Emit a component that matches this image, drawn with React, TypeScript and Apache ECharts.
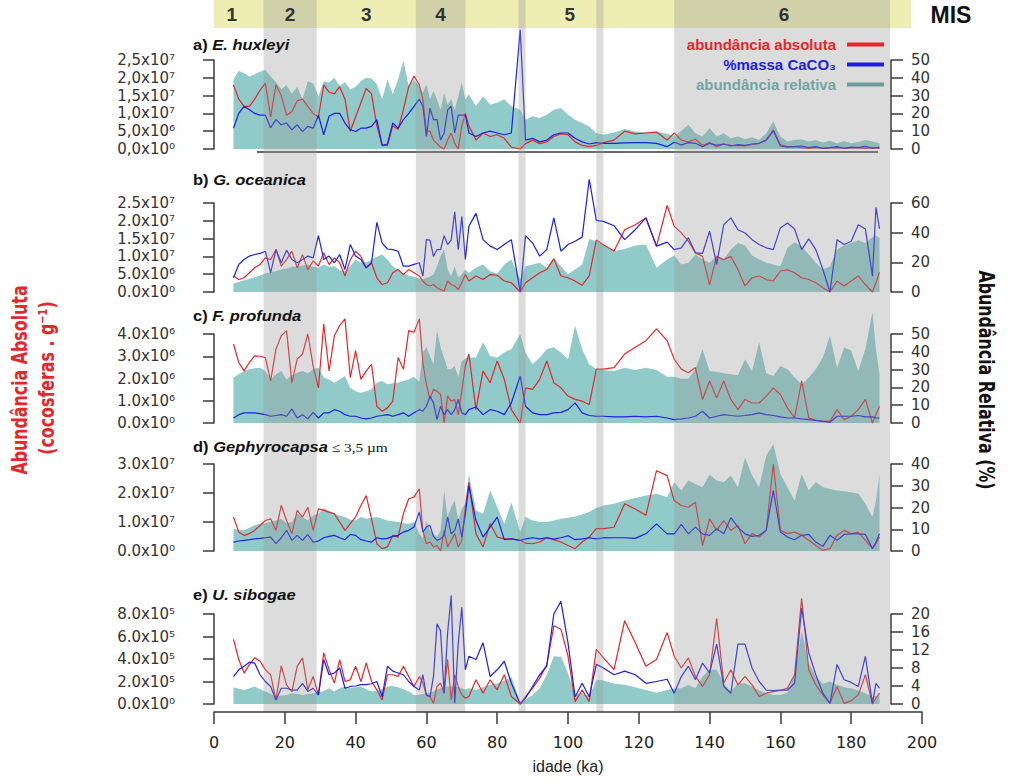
import React, { useEffect, useRef } from 'react';
import * as echarts from 'echarts';

// ---------- DATA ----------
// sample ages (ka)
const ages = [
  5.5, 7, 8.5, 10, 11.5, 13, 14.5, 16, 17.5, 19, 20.5, 22, 23.5, 25, 26.5, 28, 29.5, 31, 32.5, 34, 35.5, 37, 38.5, 40, 41.5, 43, 44.5, 46, 47.5, 49, 50.5, 52, 53.5, 55, 56.5,
  58, 59, 60, 61, 62, 63, 64, 65, 66, 67, 68, 69, 70, 71, 72,
  74, 76, 78, 80, 82, 84, 86.5, 88, 90, 92, 94, 96, 98, 100, 102, 104, 106, 108, 110, 113, 116, 119, 122, 125, 128,
  130, 132, 134, 136, 138, 140, 142, 144, 146, 148, 150, 152, 154, 156, 158, 160, 162, 164, 166, 168, 170, 172, 174, 176, 178, 180, 182, 184, 186, 187, 188,
];

// a) E. huxleyi
const aAbs = [
  18e6, 14e6, 12e6, 12e6, 14e6, 16.5e6, 18.5e6, 9e6, 18e6, 15e6, 9.5e6, 10.5e6, 13.5e6, 14e6, 12e6, 10e6, 9e6, 18e6, 16e6, 15.5e6, 17.5e6, 14e6, 5e6, 9e6, 13e6, 17e6, 15.5e6, 6.5e6, 1e6, 1e6, 6.5e6, 5.5e6, 11e6, 17.5e6, 20.5e6,
  18e6, 14e6, 5e6, 5e6, 2.5e6, 1.5e6, 0.5e6, 0, 2.5e6, 4.5e6, 1.5e6, 0, 6.5e6, 10e6, 6.5e6,
  2.5e6, 4.5e6, 3.5e6, 4e6, 3e6, 0.5e6, 0, 1.5e6, 2.5e6, 1.5e6, 2e6, 3.5e6, 4.25e6, 4e6, 2e6, 1e6, 0.65e6, 1e6, 1.8e6, 2.5e6, 5e6, 4.25e6, 4.5e6, 4.75e6, 2.5e6,
  4.5e6, 2.5e6, 2e6, 2.75e6, 1e6, 1.8e6, 0.65e6, 1.4e6, 1e6, 0.95e6, 0.85e6, 1.3e6, 1.6e6, 2.5e6, 5.4e6, 1.15e6, 0.65e6, 0.65e6, 0.4e6, 0.2e6, 0.45e6, 0.2e6, 0.3e6, 0.4e6, 0.2e6, 0.4e6, 0.3e6, 0.2e6, 0.4e6, 0.3e6, 0.2e6,
];
const aCaCO3 = [
  11.7, 20, 24, 22, 20, 19, 19, 12, 16.5, 13.6, 14.6, 10.8, 13.6, 9.8, 12.7, 11.7, 19, 8, 18.4, 20, 20, 14.6, 10.8, 9.8, 11.7, 11.7, 12.7, 16.5, 2, 2.8, 14.6, 11.7, 16.5, 20, 24,
  28, 24, 7, 23, 16.5, 16.5, 5, 9, 22, 24, 9, 19, 19, 19, 9,
  7, 9, 10, 9, 8, 9, 67, 5, 6, 4, 5, 8, 9, 9, 6, 4, 2.8, 3.6, 3.2, 3.2, 3.4, 3.6, 3.6, 3.2, 1.3,
  3.8, 2.3, 3.6, 3.2, 1.3, 3.2, 2, 2.8, 1.7, 2.5, 2, 2.8, 3.2, 5, 10.2, 1.7, 1.1, 1.3, 1.7, 0.8, 1.3, 0.4, 0.8, 1.3, 0.4, 1.1, 0.8, 1.5, 0.4, 0.7, 0.9,
];
const aRel = [
  39, 44, 42.6, 40.7, 42, 43.4, 44.5, 40.7, 37.7, 33.5, 35.8, 31, 35, 28, 38, 37, 29.7, 38, 37.3, 40, 35.4, 37.7, 33.5, 35, 38, 40, 39.6, 36.4, 28, 39, 30.7, 39, 49.6, 35.4, 39,
  35.4, 31.6, 36.4, 28, 32.6, 28, 22, 31.6, 25, 28, 22, 29.7, 37.3, 28, 30.7,
  24, 29.7, 25, 26, 28, 24, 22, 16.5, 18.4, 17.4, 19.3, 22, 23, 19.3, 16.5, 14.6, 12.7, 8.9, 8, 9.3, 11.2, 9.8, 9.3, 9.8, 8.5,
  7, 10.2, 13.6, 8.9, 7, 11.7, 7, 8.9, 6, 7, 5.5, 6.6, 5, 8.9, 15.5, 7, 4.2, 5, 5.5, 4.2, 5, 3.6, 4.7, 3.2, 4.5, 3.2, 4, 5, 4.2, 3.8, 3.2,
];

// b) G. oceanica
const bAbs = [
  4.5e6, 3.5e6, 4e6, 5.4e6, 6.8e6, 7.7e6, 9.6e6, 9.1e6, 11.9e6, 7.3e6, 9.1e6, 11.5e6, 6.8e6, 10.5e6, 6.3e6, 8.7e6, 7.3e6, 11e6, 7.7e6, 9.6e6, 8.2e6, 4.5e6, 9.1e6, 11.5e6, 10e6, 6.8e6, 8.2e6, 4e6, 2.1e6, 2.6e6, 5.4e6, 6.3e6, 4.9e6, 6.3e6, 5.4e6,
  4.5e6, 3.1e6, 2.1e6, 1.7e6, 2.1e6, 1.2e6, 0.7e6, 0.3e6, 3.1e6, 2.1e6, 1.7e6, 0.7e6, 2.6e6, 4.9e6, 3.1e6,
  4.5e6, 3.5e6, 4.9e6, 4.7e6, 3.1e6, 2.6e6, 0, 2.6e6, 4e6, 5.4e6, 6.3e6, 9.3e6, 4.5e6, 4e6, 3.1e6, 1.9e6, 4.5e6, 14.6e6, 13.3e6, 11.5e6, 17.5e6, 18.9e6, 20.8e6, 12.9e6, 24.3e6,
  18.5e6, 16.6e6, 14.3e6, 11e6, 10e6, 2.1e6, 10e6, 9.1e6, 10e6, 6.3e6, 1.7e6, 4e6, 4.5e6, 3.5e6, 3.1e6, 5.9e6, 6.2e6, 5.4e6, 4e6, 3.5e6, 2.6e6, 1.2e6, 0, 3.1e6, 1.7e6, 3.1e6, 4.5e6, 2.1e6, 0, 2.6e6, 5.6e6,
];
const bCaCO3 = [
  9.6, 18.6, 21.9, 24.2, 25.3, 26, 27.5, 13, 28.6, 19.7, 28.2, 21.9, 19.7, 21.9, 24.2, 23, 38, 21.9, 24.2, 19.7, 25.3, 15.2, 32, 24.2, 21.9, 16.3, 19.7, 47, 33, 29, 28.6, 27.5, 17.4, 17.4, 18.6,
  19.7, 10.7, 35.3, 35, 24, 28.6, 28.6, 38, 32, 35, 54, 28.6, 51, 21.9, 44.3,
  53, 35.3, 30.9, 28.6, 32, 35.3, 0, 38, 33, 24.2, 28.6, 50, 27.5, 32, 34.2, 37, 76, 48.3, 47.6, 44.7, 35.3, 42, 50, 30.9, 33.6,
  28.6, 29.8, 36.5, 26.4, 26, 41, 18.6, 45.4, 50, 42, 39.8, 35.3, 32, 29.8, 28.6, 43.2, 46.5, 42.5, 28.6, 35.8, 28.6, 15.2, 0, 35.3, 32, 34.2, 45.4, 42.5, 10.7, 57, 42.5,
];
const bRel = [
  5.8, 6.7, 8, 9, 10, 11.2, 12.5, 13.4, 14, 15.2, 15.9, 17, 17.4, 17.9, 18.6, 17, 16.3, 18.6, 17, 17.4, 14.8, 14, 17.4, 21.9, 19.7, 20, 21.9, 23.7, 25.3, 21.9, 17.4, 14.8, 12.5, 11.2, 10.3,
  9, 8.5, 9.6, 10.3, 11.9, 17.4, 24.2, 28.6, 15.2, 10.7, 17.4, 9.6, 11.9, 15.2, 13,
  16.3, 18.6, 14, 12.5, 18.6, 21.9, 8.5, 17.4, 18.6, 19.7, 16.3, 23, 17.4, 11.9, 15.2, 18.6, 35.8, 34.2, 32, 27.5, 29, 31.3, 32, 16.3, 21.9,
  24.6, 18.6, 19.7, 25.3, 21.9, 19.7, 24.2, 21.9, 28.6, 33.1, 31.3, 24.6, 21.9, 19.7, 18.6, 17.4, 29.8, 33.6, 30.9, 25.3, 19.7, 15.2, 17.4, 28.6, 31.3, 33.1, 34.9, 33.1, 37, 38, 36.5,
];

// c) F. profunda
const cAbs = [
  3.55e6, 2.72e6, 2.34e6, 2.72e6, 3.02e6, 3.0e6, 2.94e6, 1.89e6, 3.32e6, 3.92e6, 4.15e6, 1.81e6, 2.87e6, 3.1e6, 4.0e6, 2.57e6, 1.58e6, 4.45e6, 2.34e6, 3.92e6, 4.38e6, 4.68e6, 2.04e6, 3.25e6, 1.96e6, 2.34e6, 2.64e6, 0.75e6, 0.53e6, 0.68e6, 0.98e6, 2.94e6, 2.42e6, 4.15e6, 4.08e6,
  4.68e6, 2.72e6, 1.74e6, 1.06e6, 1.51e6, 1.43e6, 1.28e6, 0, 1.21e6, 0.98e6, 1.06e6, 0.38e6, 1.43e6, 2.57e6, 3.1e6,
  0.6e6, 2.34e6, 1.81e6, 2.79e6, 1.96e6, 0.6e6, 0, 1.58e6, 1.51e6, 1.96e6, 2.79e6, 1.81e6, 1.58e6, 1.21e6, 1.06e6, 0.98e6, 0.83e6, 2.42e6, 2.42e6, 2.49e6, 3.1e6, 3.4e6, 3.7e6, 4.23e6, 3.7e6,
  2.87e6, 2.42e6, 2.26e6, 2.49e6, 1.06e6, 1.89e6, 1.13e6, 1.89e6, 1.06e6, 0.6e6, 1.06e6, 0.9e6, 0.9e6, 1.21e6, 1.58e6, 1.28e6, 0.68e6, 0.23e6, 1.89e6, 0.23e6, 0.12e6, 0.08e6, 0.08e6, 0.6e6, 0.15e6, 0.3e6, 0.6e6, 1.06e6, 0, 0.38e6, 0.75e6,
];
const cCaCO3 = [
  2.8, 4.7, 5.7, 5.7, 5.7, 5.3, 4.7, 3.8, 4.2, 4.7, 3.8, 7.9, 2.8, 4.7, 2.3, 6, 2.8, 5.7, 5.7, 7.5, 6.6, 4.7, 3.8, 3.8, 2.8, 2.3, 2.8, 3.8, 4.2, 4.7, 3.8, 4.7, 5.7, 3.8, 5.7,
  7.5, 6.6, 9.4, 15.1, 11.3, 1.9, 9.4, 4.7, 7.5, 4.7, 7.5, 13.2, 5.7, 4.7, 7.5,
  9, 4.7, 7.5, 6.6, 4.7, 11.3, 26.4, 9.4, 5.7, 4.7, 4.7, 5.7, 6, 7.5, 11.3, 5.7, 4.2, 3.8, 3.8, 3.4, 3.4, 3.8, 3.4, 3.8, 2.8,
  1.9, 2.3, 2.8, 3.8, 6.6, 2.8, 3.8, 4.7, 4.2, 3.8, 4.2, 4.7, 5.7, 4.7, 4.2, 3.4, 2.8, 2.8, 2.3, 1.9, 1.5, 0.9, 0.4, 3.8, 3.8, 3.8, 4.2, 3.4, 3.4, 2.8, 2.8,
];
const cRel = [
  25.5, 27.4, 29.2, 30.2, 30.8, 31.1, 29.2, 24.5, 27.4, 29.2, 24.5, 26.8, 28.3, 29.2, 27.9, 30.2, 31.1, 25.5, 24.5, 22.6, 24.5, 26.4, 19.8, 17.9, 17, 17.9, 18.9, 22.6, 23.6, 21.7, 22.3, 22.6, 23.6, 24.5, 26,
  23, 39.6, 42.5, 37.7, 33, 51.9, 42.5, 36.8, 30.2, 30.2, 32, 25.5, 34.9, 36.2, 36.8,
  36.8, 45.3, 37.7, 36.8, 39.6, 41.5, 50, 39.6, 33, 36.8, 41.5, 42.5, 39.6, 35.8, 54.7, 41.5, 33, 30.2, 29.8, 29.2, 31.1, 29.8, 31.1, 29.8, 26,
  26, 24.9, 24.9, 30.2, 41.5, 29.2, 28.7, 27.9, 27.4, 26.8, 35.8, 29.2, 45.3, 27.9, 26.4, 32, 30.2, 25.5, 21.7, 25.5, 30.2, 36.8, 49, 31.1, 42.5, 40.6, 29.2, 41.5, 62.3, 41.5, 27.4,
];

// d) Gephyrocapsa <= 3,5 um
const dAbs = [
  11.7e6, 6.5e6, 5.4e6, 6e6, 7.1e6, 8.8e6, 10.5e6, 11.1e6, 7.1e6, 15.7e6, 10.5e6, 6e6, 14e6, 11.7e6, 15.1e6, 7.1e6, 14.5e6, 14e6, 13.4e6, 12.8e6, 10e6, 7.1e6, 9.4e6, 11.7e6, 15.7e6, 19.1e6, 11.1e6, 2.5e6, 0.8e6, 1.4e6, 5.4e6, 4.8e6, 12.8e6, 18e6, 18.6e6,
  21.4e6, 7.1e6, 2.5e6, 3.1e6, 1.4e6, 1.9e6, 0, 7.1e6, 1.4e6, 3.7e6, 6e6, 1.4e6, 3.7e6, 15.1e6, 23.7e6,
  6e6, 1.4e6, 9.4e6, 4.8e6, 4.2e6, 4.2e6, 3.7e6, 2.7e6, 2.5e6, 3.1e6, 4.6e6, 3.9e6, 3.1e6, 1.9e6, 0.8e6, 3.1e6, 4.8e6, 7.7e6, 7.7e6, 8.2e6, 16.3e6, 14.5e6, 12.3e6, 27.7e6, 26e6,
  17.4e6, 15.7e6, 15.1e6, 16.8e6, 1.9e6, 11.1e6, 7.1e6, 10.5e6, 7.1e6, 8.8e6, 2.5e6, 6e6, 4.8e6, 7.1e6, 30e6, 7.1e6, 6e6, 6.5e6, 5.4e6, 3.7e6, 1.9e6, 0.2e6, 0.8e6, 5.4e6, 7.1e6, 6e6, 6.5e6, 3.7e6, 0.8e6, 2.5e6, 4.8e6,
];
const dCaCO3 = [
  4.1, 4.6, 4.9, 5.2, 5.6, 5.8, 6.1, 6.4, 3.4, 6.1, 9.5, 4.9, 7.2, 4.9, 7.6, 4.1, 4.6, 6.1, 6.7, 7.2, 6.1, 5.2, 7.6, 7.2, 5.2, 4.6, 4.1, 6.1, 5.6, 5.8, 6.7, 7.2, 8.7, 9.5, 11,
  17.9, 8.7, 11, 11.8, 6.7, 4.9, 5.6, 7.2, 15.6, 7.9, 9.5, 14.8, 6.4, 17.1, 30,
  14, 6.4, 11, 15.6, 5.2, 5.6, 4.9, 5.6, 6.1, 5.6, 6.1, 5.5, 6.1, 7, 5.2, 5.6, 6.1, 5.6, 6, 6.1, 6.1, 5.8, 7.9, 12.5, 7.9,
  7.9, 12.2, 7.9, 11, 7.9, 7.2, 10.2, 7.9, 15.3, 11, 7.9, 6.7, 7.2, 9.5, 27.8, 8.7, 6.4, 5.2, 7.2, 7.6, 4.1, 2.1, 7.2, 4.9, 7.6, 7.9, 7.9, 7.6, 1.1, 4.1, 7.9,
];
const dRel = [
  10.2, 9.8, 9.5, 10.7, 11.8, 12.5, 12.8, 13.3, 14, 14.8, 12.8, 13.3, 17.1, 15.6, 14, 16.3, 17.1, 19.8, 18.3, 17.1, 16.3, 15.6, 14.4, 14, 15.6, 14.8, 15.3, 15.6, 14.8, 14, 13.7, 13.3, 12.8, 12.5, 13.3,
  7.9, 6.1, 14, 9.5, 7.9, 6.4, 9.5, 27.8, 15.6, 20.2, 23.2, 14, 19.4, 21.7, 35.4,
  18.6, 17.1, 27.8, 20.2, 12.5, 22.4, 8.7, 15.6, 14, 13.3, 13.3, 14, 14.8, 15.3, 15.9, 16.8, 17.9, 19.8, 20.9, 21.7, 23.2, 24.4, 25.5, 26.3, 24.7,
  31.6, 27.8, 32.4, 30.8, 29.3, 35.1, 32.4, 31.6, 34.7, 29.3, 43, 34.7, 29.3, 43.8, 49.2, 35.4, 29.3, 23.2, 35.4, 27.8, 31.6, 29.3, 28.5, 27.8, 27.5, 27, 26.3, 21.7, 15.6, 23.2, 35.4,
];

// e) U. sibogae
const eAbs = [
  5.75e5, 3.95e5, 2.75e5, 3.5e5, 4.1e5, 3.8e5, 3.05e5, 2.6e5, 0.36e5, 3.4e5, 1.7e5, 1.1e5, 3.35e5, 4.1e5, 1.26e5, 2.45e5, 0.81e5, 4.55e5, 3.05e5, 1.86e5, 3.95e5, 2.0e5, 2.15e5, 3.35e5, 2.0e5, 3.65e5, 2.0e5, 1.26e5, 0.36e5, 2.6e5, 2.6e5, 2.45e5, 3.35e5, 2.45e5, 1.56e5,
  2.45e5, 1.86e5, 0.81e5, 0.66e5, 0.06e5, 1.56e5, 1.86e5, 0.96e5, 3.95e5, 0.36e5, 2.6e5, 1.56e5, 0.81e5, 0.51e5, 0.66e5,
  2.15e5, 0.96e5, 2.15e5, 1.26e5, 2.6e5, 0.66e5, 0, 0.66e5, 1.41e5, 2.3e5, 3.5e5, 6.95e5, 6.65e5, 4.25e5, 0.21e5, 1.26e5, 0.21e5, 4.85e5, 4.1e5, 3.05e5, 7.4e5, 5.45e5, 3.35e5, 3.95e5, 6.35e5,
  4.25e5, 3.2e5, 4.1e5, 2.45e5, 1.56e5, 2.6e5, 7.6e5, 1.86e5, 3.05e5, 1.7e5, 2.45e5, 1.7e5, 0.66e5, 0.96e5, 1.1e5, 1.2e5, 1.41e5, 2.6e5, 9.4e5, 3.05e5, 1.7e5, 0.81e5, 0.06e5, 1.56e5, 0.06e5, 0.3e5, 0.81e5, 2.6e5, 0, 0.51e5, 0.96e5,
];
const eCaCO3 = [
  6.1, 7.6, 8.4, 9.3, 9.1, 6.5, 5, 3.9, 0.9, 3.5, 3.5, 3.1, 3.1, 4.6, 2.8, 3.5, 2, 9.9, 6.5, 6.9, 8, 3.5, 3.9, 4, 4.3, 4.3, 4.5, 5, 1.6, 8.4, 7.3, 6.9, 6.5, 5, 3.9,
  3.1, 6.5, 2, 1.6, 6.1, 17.8, 16.3, 2.4, 15.9, 24.1, 0.15, 13.6, 21.5, 7.6, 10.6,
  9.9, 13.6, 6.1, 7.6, 9.5, 4.6, 0, 1.3, 3.9, 6.5, 8.4, 20, 22.8, 13.6, 1.6, 4.6, 1.6, 8.8, 8, 6.5, 7.3, 6.5, 4.6, 5, 5.5,
  2.4, 6.1, 8.4, 5.4, 9.1, 6.9, 13.3, 3.9, 2.4, 13.3, 13.3, 8, 5, 3.1, 3, 3.1, 3.1, 4.6, 21.3, 11.4, 6.5, 2.4, 0.15, 8.8, 5.4, 4.8, 3.9, 10.6, 0.15, 4.6, 3.5,
];
const eRel = [
  3.7, 3.4, 3.1, 3.5, 3.9, 3.3, 2.8, 2.2, 1.6, 1.9, 2, 2.4, 2.2, 2, 2.2, 2.4, 2.6, 2.9, 3.5, 2.8, 3.5, 3.9, 3.5, 3.7, 3.9, 3.3, 2.8, 3, 3.3, 3.9, 4, 3.7, 3.3, 2.8, 2,
  2, 2.2, 2.4, 2.5, 2.8, 3.3, 3.5, 3.7, 3.9, 3.9, 3.9, 3.7, 3.5, 3.3, 3.5,
  3.1, 3.7, 4.3, 4.6, 5.2, 6, 0.5, 1, 2, 3.5, 6.5, 10.6, 10.5, 6.9, 2, 2.5, 1.6, 5.4, 5.2, 4.5, 4.3, 3.7, 3.1, 2.5, 3.1,
  3.4, 3.5, 4.2, 3.5, 6.1, 7.6, 7.6, 4.6, 2.8, 4.6, 4.6, 3.9, 3, 2.4, 2, 2, 2.5, 6.5, 16.3, 9.1, 6.1, 4.5, 5, 4.3, 3.7, 3.5, 3, 2.4, 1.6, 1.8, 2,
];

// panel labels & axis ranges
const panelLetters = ['a)', 'b)', 'c)', 'd)', 'e)'];
const panelSpecies = ['E. huxleyi', 'G. oceanica', 'F. profunda', 'Gephyrocapsa', 'U. sibogae'];
const panelSuffix = ['', '', '', ' ≤ 3,5 µm', ''];
const leftMax = [2.5e7, 2.5e7, 4e6, 3e7, 8e5];
const leftInterval = [5e6, 5e6, 1e6, 1e7, 2e5];
const rightMax = [50, 60, 50, 40, 20];
const rightInterval = [10, 20, 10, 10, 4];
const decimalComma = [true, false, false, false, false];
const absData = [aAbs, bAbs, cAbs, dAbs, eAbs];
const caco3Data = [aCaCO3, bCaCO3, cCaCO3, dCaCO3, eCaCO3];
const relData = [aRel, bRel, cRel, dRel, eRel];

// marine isotope stages
const glacialStart = [14, 57, 86, 108, 130];
const glacialEnd = [29, 71, 88, 110, 191];
const misLabels = ['1', '2', '3', '4', '5', '6'];
const misLabelAge = [5, 21.5, 43, 64, 100.5, 161];
const misBarRange = [0, 197];

const NAME_ABS = 'abundância absoluta';
const NAME_CACO3 = '%massa CaCO₃';
const NAME_REL = 'abundância relativa';

// ---------- STYLE / LAYOUT ----------
const RED = '#e5262b';
const BLUE = '#1e1ee4';
const TEAL = '#90cbca';
const AXIS = '#3a3a3a';
const X0 = 214;
const XW = 708;
const panelTop = [60, 203, 334, 464, 614];
const panelH = [89, 89, 89, 87, 90];
const titleY = [45, 180, 316, 447, 595];
const NARROW = "'Liberation Sans Narrow', 'DejaVu Sans Condensed', 'Liberation Sans', sans-serif";
const SANS = "'Liberation Sans', Arial, sans-serif";
const TICKF = "'DejaVu Sans', sans-serif";

const SUP: Record<string, string> = { '0': '⁰', '1': '¹', '2': '²', '3': '³', '4': '⁴', '5': '⁵', '6': '⁶', '7': '⁷', '8': '⁸', '9': '⁹' };
function sci(v: number, comma: boolean): string {
  let s: string;
  if (v <= 0) s = '0.0x10⁰';
  else {
    const e = Math.floor(Math.log10(v) + 1e-9);
    const m = v / Math.pow(10, e);
    s = m.toFixed(1) + 'x10' + String(e).split('').map((c) => SUP[c]).join('');
  }
  return comma ? s.replace('.', ',') : s;
}

function buildOption(): any {
  const grids: any[] = [];
  const xAxes: any[] = [];
  const yAxes: any[] = [];
  const series: any[] = [];
  const axisLineStyle = { color: AXIS, width: 1.5 };

  for (let i = 0; i < 5; i++) {
    grids.push({ left: X0, top: panelTop[i], width: XW, height: panelH[i] });
    xAxes.push({ gridIndex: i, type: 'value', min: 0, max: 200, show: false });
    const comma = decimalComma[i];
    yAxes.push({
      gridIndex: i, type: 'value', position: 'left', offset: 21, min: 0, max: leftMax[i], interval: leftInterval[i], z: 15,
      axisLine: { show: true, lineStyle: axisLineStyle },
      axisTick: { show: true, length: 11, lineStyle: axisLineStyle },
      axisLabel: { margin: 18, fontSize: 15, color: '#333', fontFamily: TICKF, formatter: (v: number) => sci(v, comma) },
      splitLine: { show: false },
    });
    yAxes.push({
      gridIndex: i, type: 'value', position: 'right', offset: -31, min: 0, max: rightMax[i], interval: rightInterval[i], z: 15,
      axisLine: { show: true, lineStyle: axisLineStyle },
      axisTick: { show: true, length: 12, lineStyle: axisLineStyle },
      axisLabel: { margin: 20, fontSize: 15, color: '#333', fontFamily: TICKF },
      splitLine: { show: false },
    });
    const rel = ages.map((a, k) => [a, relData[i][k]]);
    const abs = ages.map((a, k) => [a, absData[i][k]]);
    const cc = ages.map((a, k) => [a, caco3Data[i][k]]);
    series.push({
      type: 'line', name: NAME_REL, xAxisIndex: i, yAxisIndex: 2 * i + 1, data: rel, symbol: 'none', clip: false, z: 2, silent: true,
      lineStyle: { width: 0, color: TEAL }, itemStyle: { color: TEAL }, areaStyle: { color: TEAL, opacity: 1 },
    });
    series.push({
      type: 'line', name: NAME_ABS, xAxisIndex: i, yAxisIndex: 2 * i, data: abs, symbol: 'none', clip: false, z: 3, silent: true,
      lineStyle: { width: 1.2, color: RED }, itemStyle: { color: RED },
    });
    series.push({
      type: 'line', name: NAME_CACO3, xAxisIndex: i, yAxisIndex: 2 * i + 1, data: cc, symbol: 'none', clip: false, z: 4, silent: true,
      lineStyle: { width: 1.2, color: BLUE }, itemStyle: { color: BLUE },
    });
  }

  // overlay grid (stage bands + bottom age axis)
  grids.push({ left: X0, top: 0, width: XW, height: 712 });
  xAxes.push({
    gridIndex: 5, type: 'value', min: 0, max: 200, interval: 20, z: 15,
    axisLine: { show: true, lineStyle: axisLineStyle },
    axisTick: { show: true, length: 12, lineStyle: axisLineStyle },
    axisLabel: { margin: 22, fontSize: 16, color: '#222', fontFamily: TICKF },
    splitLine: { show: false },
    name: 'idade (ka)', nameLocation: 'middle', nameGap: 46,
    nameTextStyle: { fontSize: 16, color: '#222', fontFamily: SANS },
  });
  yAxes.push({ gridIndex: 5, type: 'value', min: 0, max: 1, show: false });

  // MIS bar grid
  grids.push({ left: X0, top: 0, width: XW, height: 28 });
  xAxes.push({ gridIndex: 6, type: 'value', min: 0, max: 200, show: false });
  yAxes.push({ gridIndex: 6, type: 'value', min: 0, max: 1, show: false });

  series.push({
    type: 'custom', xAxisIndex: 6, yAxisIndex: 11, z: 1, silent: true, clip: false,
    data: [[misBarRange[0], misBarRange[1]]], encode: { x: [0, 1] },
    renderItem: (params: any, api: any) => {
      const p0 = api.coord([api.value(0), 1]);
      const p1 = api.coord([api.value(1), 0]);
      return { type: 'rect', shape: { x: p0[0], y: p0[1], width: p1[0] - p0[0], height: p1[1] - p0[1] }, style: { fill: '#eeeeb4' } };
    },
  });
  series.push({
    type: 'custom', xAxisIndex: 5, yAxisIndex: 10, z: 10, silent: true, clip: false,
    data: glacialStart.map((s, k) => [s, glacialEnd[k]]), encode: { x: [0, 1] },
    renderItem: (params: any, api: any) => {
      const p0 = api.coord([api.value(0), 1]);
      const p1 = api.coord([api.value(1), 0]);
      return { type: 'rect', shape: { x: p0[0], y: p0[1], width: p1[0] - p0[0], height: p1[1] - p0[1] }, style: { fill: 'rgba(150,150,150,0.33)' } };
    },
  });
  series.push({
    type: 'custom', xAxisIndex: 6, yAxisIndex: 11, z: 12, silent: true, clip: false,
    data: misLabelAge.map((a) => [a]), encode: { x: 0 },
    renderItem: (params: any, api: any) => {
      const p = api.coord([api.value(0), 0.5]);
      return {
        type: 'text', x: p[0], y: p[1],
        style: { text: misLabels[params.dataIndex], fill: '#333', fontSize: 19, fontWeight: 'bold', fontFamily: SANS, align: 'center', verticalAlign: 'middle' },
      };
    },
  });

  const graphics: any[] = [];
  for (let i = 0; i < 5; i++) {
    graphics.push({
      type: 'text', x: 193, y: titleY[i], scaleX: 1.18, z: 20,
      style: {
        text: `{n|${panelLetters[i]} }{i|${panelSpecies[i]}}` + (panelSuffix[i] ? `{s|${panelSuffix[i]}}` : ''),
        verticalAlign: 'middle',
        rich: {
          n: { fontSize: 14, fontWeight: 'bold', fontFamily: SANS, fill: '#111' },
          i: { fontSize: 14, fontWeight: 'bold', fontStyle: 'italic', fontFamily: SANS, fill: '#111' },
          s: { fontSize: 13, fontFamily: "'Liberation Serif', serif", fill: '#111' },
        },
      },
    });
  }
  graphics.push({
    type: 'text', x: 20, y: 380, rotation: Math.PI / 2, scaleX: 0.8, z: 20,
    style: { text: 'Abundância Absoluta', fill: RED, fontSize: 22, fontWeight: 'bold', fontFamily: NARROW, align: 'center', verticalAlign: 'middle' },
  });
  graphics.push({
    type: 'text', x: 47, y: 378, rotation: Math.PI / 2, scaleX: 0.8, z: 20,
    style: { text: '(cocosferas . g⁻¹)', fill: RED, fontSize: 22, fontWeight: 'bold', fontFamily: NARROW, align: 'center', verticalAlign: 'middle' },
  });
  graphics.push({
    type: 'text', x: 986, y: 380, rotation: -Math.PI / 2, scaleX: 0.8, z: 20,
    style: { text: 'Abundância Relativa (%)', fill: '#111', fontSize: 22, fontWeight: 'bold', fontFamily: NARROW, align: 'center', verticalAlign: 'middle' },
  });
  graphics.push({
    type: 'text', x: 951, y: 15, z: 20,
    style: { text: 'MIS', fill: '#111', fontSize: 23, fontWeight: 'bold', fontFamily: SANS, align: 'center', verticalAlign: 'middle' },
  });
  graphics.push({
    type: 'line', z: 5, shape: { x1: 257, y1: 152, x2: 878, y2: 152 }, style: { stroke: '#6a6a6a', lineWidth: 2 },
  });

  return {
    animation: false,
    backgroundColor: '#ffffff',
    grid: grids,
    xAxis: xAxes,
    yAxis: yAxes,
    series,
    graphic: graphics,
    legend: {
      orient: 'vertical', right: 140, top: 37, align: 'right', itemWidth: 37, itemHeight: 4, itemGap: 5, z: 20,
      selectedMode: false, padding: 0,
      textStyle: { fontSize: 15, fontWeight: 'bold', fontFamily: SANS, padding: [0, 6, 0, 0] },
      data: [
        { name: NAME_ABS, icon: 'rect', itemStyle: { color: RED }, textStyle: { color: RED } },
        { name: NAME_CACO3, icon: 'rect', itemStyle: { color: BLUE }, textStyle: { color: BLUE } },
        { name: NAME_REL, icon: 'rect', itemStyle: { color: '#6c9c9a' }, textStyle: { color: '#72a5a3' } },
      ],
    },
  };
}

export default function App() {
  const ref = useRef<HTMLDivElement>(null);
  useEffect(() => {
    if (!ref.current) return;
    const chart = echarts.init(ref.current, undefined, { renderer: 'svg' });
    chart.setOption(buildOption());
    return () => chart.dispose();
  }, []);
  return (
    <div
      ref={ref}
      style={{ position: 'absolute', left: 0, top: 0, width: 1024, height: 783, background: '#fff' }}
    />
  );
}
